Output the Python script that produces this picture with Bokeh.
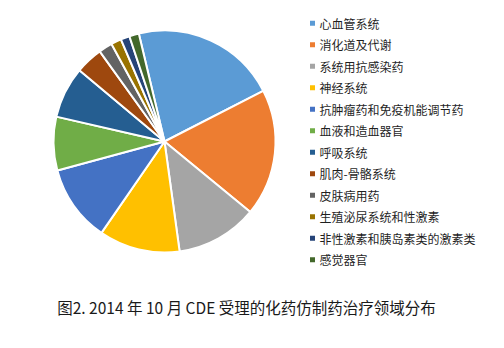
import numpy as np
from bokeh.plotting import figure
from bokeh.models import Range1d, ColumnDataSource
from bokeh.core.properties import value
from bokeh.embed import file_html
from bokeh.resources import INLINE

categories = ["心血管系统", "消化道及代谢", "系统用抗感染药", "神经系统",
              "抗肿瘤药和免疫机能调节药", "血液和造血器官", "呼吸系统", "肌肉-骨骼系统",
              "皮肤病用药", "生殖泌尿系统和性激素", "非性激素和胰岛素类的激素类", "感觉器官"]
shares = [21.2, 18.5, 11.9, 11.8, 11.2, 7.8, 7.5, 4.0, 2.0, 1.5, 1.3, 1.4]
colors = ["#5B9BD5", "#ED7D31", "#A5A5A5", "#FFC000", "#4472C4", "#70AD47",
          "#255E91", "#9E480E", "#636363", "#997300", "#264478", "#43682B"]
title_text = "图2. 2014 年 10 月 CDE 受理的化药仿制药治疗领域分布"

W, H = 504, 348
FONT = "Noto Sans CJK SC"

p = figure(width=W, height=H, output_backend="svg", toolbar_location=None,
           x_range=Range1d(0, W), y_range=Range1d(0, H), min_border=0)
p.axis.visible = False
p.grid.visible = False
p.outline_line_color = None
p.background_fill_color = "white"
p.border_fill_color = "white"

# pie
cx, cy, r = 164, H - 141, 111
offset = np.deg2rad(-13.4)  # first slice starts slightly left of 12 o'clock
vals = np.array(shares, dtype=float)
frac = vals / vals.sum() * 2 * np.pi
cum = np.concatenate([[0], np.cumsum(frac)])
a0 = offset + cum[:-1]
a1 = offset + cum[1:]
src = ColumnDataSource(dict(start=np.pi / 2 - a0, end=np.pi / 2 - a1, color=colors))
p.wedge(x=cx, y=cy, radius=r, start_angle="start", end_angle="end", direction="clock",
        fill_color="color", line_color="white", line_width=2, source=src)

# legend
lx, ly0, dy = 312, 22.7, 21.5
ly = [H - (ly0 + i * dy) for i in range(len(categories))]
lsrc = ColumnDataSource(dict(x=[lx] * len(categories), tx=[lx + 7] * len(categories),
                             y=ly, label=categories, color=colors))
p.scatter(x="x", y="y", marker="square", size=5, fill_color="color", line_color=None, source=lsrc)
p.text(x="tx", y="y", text="label", text_font=value(FONT), text_font_size="12px",
       text_baseline="middle", text_align="left", text_color="#1f1f1f", source=lsrc)

# caption
p.text(x=[W / 2 - 6], y=[H - 306], text=[title_text], text_font=value(FONT),
       text_font_size="15.5px", text_baseline="middle", text_align="center", text_color="#1a1a1a")

open("out.html", "w").write(file_html(p, INLINE))
